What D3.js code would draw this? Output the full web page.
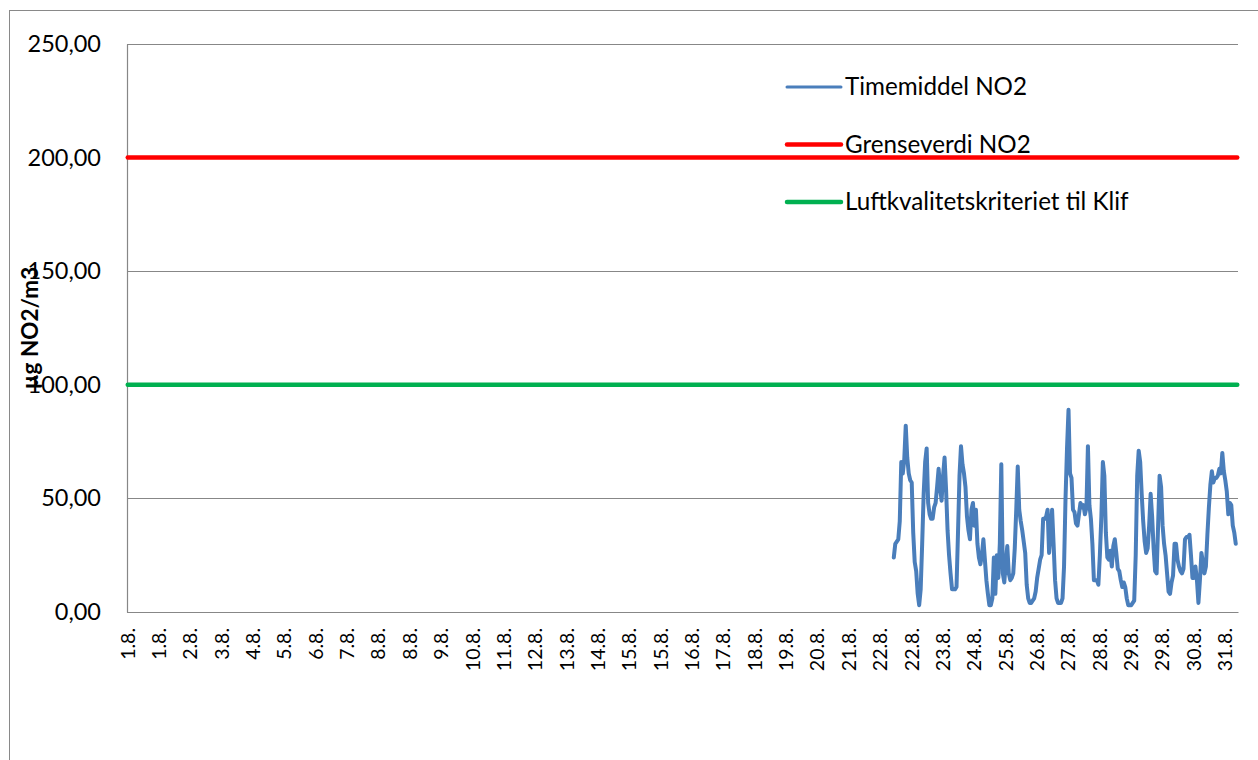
<!DOCTYPE html>
<html>
<head>
<meta charset="utf-8">
<script src="https://cdn.jsdelivr.net/npm/d3@7"></script>
<style>
  html, body { margin: 0; padding: 0; background: #fff; overflow: hidden; }
  svg { display: block; font-family: Lato, "Open Sans", sans-serif; }
</style>
</head>
<body>
<svg id="chart"></svg>
<script>
// hourly categories for August, labels shown every LABEL_STEP hours
const N_HOURS = 744;
const LABEL_STEP = 21;
const tickLabels = ['1.8.', '1.8.', '2.8.', '3.8.', '4.8.', '5.8.', '6.8.', '7.8.', '8.8.', '8.8.',
  '9.8.', '10.8.', '11.8.', '12.8.', '13.8.', '14.8.', '15.8.', '15.8.', '16.8.', '17.8.',
  '18.8.', '19.8.', '20.8.', '21.8.', '22.8.', '22.8.', '23.8.', '24.8.', '25.8.', '26.8.',
  '27.8.', '28.8.', '29.8.', '29.8.', '30.8.', '31.8.'];
const yTicks = [0, 50, 100, 150, 200, 250];

const grenseverdi = 200;
const luftkvalitetskriterium = 100;

// measurements start at hour index 513 (22.8.)
const firstHour = 513;
const timemiddel = [
  24, 30, 31, 32, 40, 66, 61, 67, 82, 68,
  61, 58, 57, 35, 22, 18, 8, 3, 10, 30,
  52, 66, 72, 48, 43, 41, 41, 46, 48, 55,
  63, 55, 49, 60, 68, 54, 36, 25, 17, 10,
  10, 10, 11, 35, 60, 73, 65, 61, 55, 42,
  36, 32, 45, 48, 38, 45, 30, 24, 21, 25,
  32, 23, 14, 8, 3, 3, 6, 24, 8, 25,
  15, 30, 65, 17, 13, 22, 29, 17, 14, 15,
  17, 28, 45, 64, 45, 40, 36, 31, 26, 12,
  6, 4, 4, 5, 6, 9, 15, 19, 23, 25,
  41, 41, 42, 45, 26, 35, 45, 30, 14, 6,
  4, 4, 4, 6, 20, 50, 72, 89, 61, 59,
  45, 44, 39, 38, 43, 48, 46, 47, 43, 46,
  73, 47, 41, 30, 14, 14, 14, 12, 25, 42,
  66, 60, 35, 24, 23, 27, 20, 29, 32, 26,
  19, 18, 14, 11, 13, 11, 6, 3, 3, 3,
  4, 5, 25, 60, 71, 66, 52, 40, 31, 26,
  28, 38, 52, 42, 28, 18, 17, 38, 60, 55,
  38, 30, 25, 17, 9, 8, 13, 16, 30, 30,
  23, 20, 18, 17, 19, 32, 33, 33, 34, 25,
  15, 15, 20, 14, 4, 14, 26, 22, 17, 20,
  34, 46, 56, 62, 57, 59, 59, 60, 63, 61,
  70, 62, 58, 53, 43, 48, 47, 38, 35, 30
];

const seriesNames = ['Timemiddel NO2', 'Grenseverdi NO2', 'Luftkvalitetskriteriet til Klif'];
const COLORS = {
  'Timemiddel NO2': '#4a7ebb',
  'Grenseverdi NO2': '#ff0000',
  'Luftkvalitetskriteriet til Klif': '#00b050'
};
const WIDTHS = {
  'Timemiddel NO2': 4,
  'Grenseverdi NO2': 4.5,
  'Luftkvalitetskriteriet til Klif': 4.5
};
const LEGEND_WIDTHS = {
  'Timemiddel NO2': 3,
  'Grenseverdi NO2': 4.5,
  'Luftkvalitetskriteriet til Klif': 4.5
};

const W = 1258, H = 760;
const plot = { left: 127, top: 44, right: 1238, bottom: 612 };

const svg = d3.select('#chart').attr('width', W).attr('height', H);

// chart frame (runs off the page like in the original export)
svg.append('rect')
  .attr('x', 9.5).attr('y', 10.5)
  .attr('width', 1400).attr('height', 900)
  .attr('fill', 'none')
  .attr('stroke', '#898989');

const hours = d3.range(N_HOURS);
const x = d3.scaleBand()
  .domain(hours)
  .range([plot.left, plot.right]);
const cx = i => x(i) + x.bandwidth() / 2;

const y = d3.scaleLinear()
  .domain([0, 250])
  .range([plot.bottom, plot.top]);

const nbFormat = d3.formatLocale({ decimal: ',', thousands: ' ', grouping: [3], currency: ['', ''] }).format('.2f');

// gridlines
svg.append('g')
  .selectAll('line')
  .data(yTicks)
  .enter()
  .append('line')
  .attr('x1', plot.left)
  .attr('x2', plot.right)
  .attr('y1', d => Math.round(y(d)) + 0.5)
  .attr('y2', d => Math.round(y(d)) + 0.5)
  .attr('stroke', '#878787')
  .attr('stroke-width', 1.2);

// y axis
const yAxis = svg.append('g')
  .attr('transform', `translate(${plot.left},0)`)
  .call(d3.axisLeft(y).tickValues(yTicks).tickFormat(nbFormat).tickSize(0).tickPadding(26));
yAxis.select('.domain').attr('stroke', '#878787').attr('stroke-width', 1.2);
yAxis.selectAll('text')
  .attr('font-family', 'Lato, sans-serif')
  .attr('font-size', 23.5)
  .attr('fill', '#000');

// x axis
const xAxis = svg.append('g')
  .attr('transform', `translate(0,${plot.bottom})`)
  .call(d3.axisBottom(x)
    .tickValues(tickLabels.map((d, j) => j * LABEL_STEP))
    .tickFormat(i => tickLabels[i / LABEL_STEP])
    .tickSize(0));
xAxis.select('.domain').attr('stroke', '#878787').attr('stroke-width', 1.2);
xAxis.selectAll('text')
  .attr('font-family', 'Lato, sans-serif')
  .attr('font-size', 19.5)
  .attr('fill', '#000')
  .attr('text-anchor', 'end')
  .attr('transform', 'translate(0,16) rotate(-90)')
  .attr('x', 0)
  .attr('y', 0)
  .attr('dy', '0.35em');

// series
const lineGen = d3.line()
  .x(d => cx(d.hour))
  .y(d => y(d.value));

const seriesData = {
  'Timemiddel NO2': timemiddel.map((v, k) => ({ hour: firstHour + k, value: v })),
  'Grenseverdi NO2': hours.map(h => ({ hour: h, value: grenseverdi })),
  'Luftkvalitetskriteriet til Klif': hours.map(h => ({ hour: h, value: luftkvalitetskriterium }))
};

svg.append('g')
  .selectAll('path')
  .data(seriesNames)
  .enter()
  .append('path')
  .attr('d', d => lineGen(seriesData[d]))
  .attr('fill', 'none')
  .attr('stroke', d => COLORS[d])
  .attr('stroke-width', d => WIDTHS[d])
  .attr('stroke-linejoin', 'round')
  .attr('stroke-linecap', 'round');

// y axis title
svg.append('text')
  .attr('transform', `translate(38,${(plot.top + plot.bottom) / 2}) rotate(-90)`)
  .attr('text-anchor', 'middle')
  .attr('font-size', 22.5)
  .attr('font-weight', 'bold')
  .text('µg NO2/m3');

// legend
const legend = svg.append('g')
  .selectAll('g')
  .data(seriesNames)
  .enter()
  .append('g')
  .attr('transform', (d, i) => `translate(787,${87 + i * 57.5})`);

legend.append('line')
  .attr('x1', 0)
  .attr('x2', 54)
  .attr('stroke', d => COLORS[d])
  .attr('stroke-width', d => LEGEND_WIDTHS[d])
  .attr('stroke-linecap', 'round');

legend.append('text')
  .attr('x', 58)
  .attr('dy', '0.35em')
  .attr('font-size', 24.2)
  .text(d => d);
</script>
</body>
</html>
